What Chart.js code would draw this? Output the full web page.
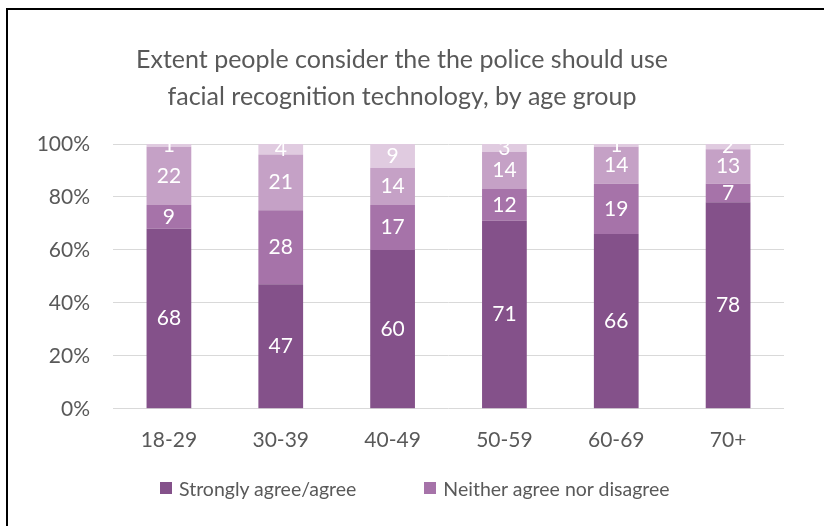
<!DOCTYPE html>
<html>
<head>
<meta charset="utf-8">
<title>Facial recognition by age group</title>
<script src="https://cdn.jsdelivr.net/npm/chart.js@4.4.0/dist/chart.umd.min.js"></script>
<style>
  html, body { margin: 0; padding: 0; background: #fff; }
  #wrap { position: relative; width: 824px; height: 526px; overflow: hidden; }
  #frame { position: absolute; left: 6px; top: 8px; right: -4px; bottom: -4px;
           border-top: 2px solid #000; border-left: 2px solid #000; }
  #chart { position: absolute; left: 0; top: 0; }
  #legend { position: absolute; left: 160px; top: 476px; height: 24px;
            display: flex; align-items: center;
            font-family: Lato, sans-serif; font-size: 19.5px; color: #595959; }
  .item { display: flex; align-items: center; margin-right: 68px; white-space: nowrap; }
  .swatch { width: 12px; height: 12px; margin-right: 7px; }
</style>
</head>
<body>
<div id="wrap">
  <div id="frame"></div>
  <canvas id="chart" width="824" height="526"></canvas>
  <div id="legend"></div>
</div>
<script>
'use strict'

const ageGroups = ['18-29', '30-39', '40-49', '50-59', '60-69', '70+'];
const agree     = [68, 47, 60, 71, 66, 78];
const neither   = [9, 28, 17, 12, 19, 7];
const disagree  = [22, 21, 14, 14, 14, 13];
const dontKnow  = [1, 4, 9, 3, 1, 2];
const yTicks    = [0, 20, 40, 60, 80, 100];

const seriesNames  = ['Strongly agree/agree', 'Neither agree nor disagree', 'Disagree/strongly disagree', "Don't know"];
const seriesColors = ['#84518A', '#A673A9', '#C5A1C6', '#E0CBE0'];
const textColor = '#595959';

// white numbers in the middle of each bar segment
const segmentLabels = {
  id: 'segmentLabels',
  afterDatasetsDraw(chart) {
    const ctx = chart.ctx;
    ctx.save();
    ctx.fillStyle = '#fff';
    ctx.font = '21px Lato';
    ctx.textAlign = 'center';
    ctx.textBaseline = 'middle';
    chart.data.datasets.forEach((ds, i) => {
      chart.getDatasetMeta(i).data.forEach((bar, j) => {
        const p = bar.getProps(['x', 'y', 'base'], true);
        ctx.fillText(ds.data[j], p.x, (p.y + p.base) / 2);
      });
    });
    ctx.restore();
  }
};

function buildLegend(chart) {
  const box = document.getElementById('legend');
  chart.data.datasets.slice(0, 2).forEach(ds => {
    const item = document.createElement('div');
    item.className = 'item';
    const sw = document.createElement('span');
    sw.className = 'swatch';
    sw.style.background = ds.backgroundColor;
    const txt = document.createElement('span');
    txt.textContent = ds.label;
    item.appendChild(sw);
    item.appendChild(txt);
    box.appendChild(item);
  });
}

function drawChart() {
  const allSeries = [agree, neither, disagree, dontKnow];
  const datasets = allSeries.map((vals, i) => ({
    label: seriesNames[i],
    data: vals,
    backgroundColor: seriesColors[i],
    borderWidth: 0,
    barPercentage: 0.4,
    categoryPercentage: 1
  }));

  const ctx = document.getElementById('chart').getContext('2d');
  const chart = new Chart(ctx, {
    type: 'bar',
    data: { labels: ageGroups, datasets: datasets },
    plugins: [segmentLabels],
    options: {
      responsive: false,
      animation: false,
      layout: { padding: { left: 0, right: 20, top: 0, bottom: 54 } },
      plugins: {
        legend: { display: false },
        tooltip: { enabled: false },
        title: {
          display: true,
          text: ['Extent people consider the the police should use', 'facial recognition technology, by age group'],
          color: textColor,
          font: { family: 'Lato', size: 25, weight: 'normal', lineHeight: 1.48 },
          padding: { top: 41, bottom: 29 }
        }
      },
      scales: {
        x: {
          stacked: true,
          grid: { display: false, drawTicks: false },
          border: { display: false },
          ticks: { color: textColor, font: { family: 'Lato', size: 21 }, padding: 19 }
        },
        y: {
          stacked: true,
          min: 0,
          max: 100,
          afterFit: s => { s.width = 113; },
          afterBuildTicks: s => { s.ticks = yTicks.map(v => ({ value: v })); },
          grid: { color: '#D9D9D9', lineWidth: 1, drawTicks: false },
          border: { display: false },
          ticks: { color: textColor, font: { family: 'Lato', size: 21 }, padding: 23,
                   callback: v => v + '%' }
        },
        // empty right-hand gutter so the title sits over the whole frame
        gutter: {
          type: 'linear',
          position: 'right',
          afterFit: s => { s.width = 20; },
          grid: { display: false, drawTicks: false },
          border: { display: false },
          ticks: { display: false }
        }
      }
    }
  });
  buildLegend(chart);
}

Promise.all([
  document.fonts.load('25px Lato'),
  document.fonts.load('21px Lato')
]).then(drawChart, drawChart);
</script>
</body>
</html>
